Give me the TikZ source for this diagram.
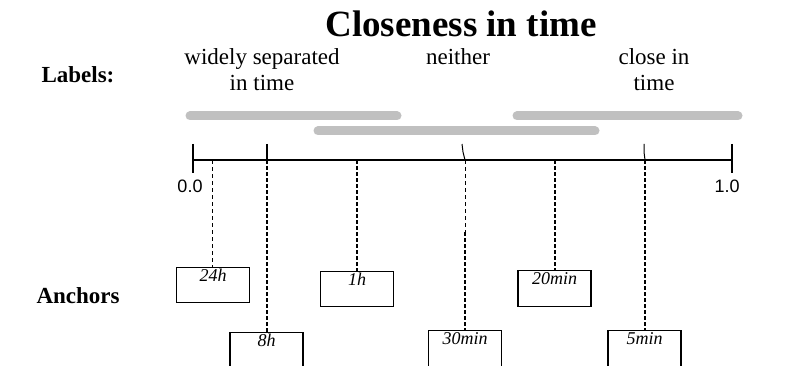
\documentclass[tikz,border=0pt]{standalone}
\usepackage{fontspec}
\setmainfont{Liberation Serif}
\setsansfont{Liberation Sans}
\usetikzlibrary{positioning}
\definecolor{lightbar}{RGB}{192,192,192}
\tikzset{
  anchor box/.style={draw,line width=1.2pt,minimum width=73pt,anchor=north,inner sep=0pt},
  box text/.style={font=\fontsize{18}{18}\selectfont\itshape,anchor=north,inner sep=2pt},
  head/.style={font=\fontsize{23}{23}\selectfont\bfseries,anchor=base west},
  category/.style={font=\fontsize{23}{26}\selectfont,align=center,anchor=base},
  number/.style={font=\sffamily\fontsize{18}{18}\selectfont,anchor=base},
  bar/.style={line width=9pt,line cap=round,draw=lightbar},
  thin dash/.style={line width=1pt,dash pattern=on 4pt off 3pt},
  thick dash/.style={line width=2.6pt,dash pattern=on 4pt off 2pt}
}
\begin{document}
\begin{tikzpicture}[x=1pt,y=-1pt]
    \useasboundingbox (0,0) rectangle (810,366);
    \clip (0,0) rectangle (810,366);

    \node[font=\fontsize{37}{40}\selectfont\bfseries,anchor=base] (title) at (461,37) {Closeness in time};

    \node[head] (labels) at (38,83) {Labels:};
    \node[head] (anchors) at (33,303) {Anchors};

    % the base of a two-line node is its last line
    \node[category] (wide) at (262,91) {widely separated\\in time};
    \node[category] (neither) at (458,65) {neither};
    \node[category] (close) at (654,91) {close in\\time};

    % grey ranges of the labels
    \draw[bar] (190,116) -- (397,116);
    \draw[bar] (318,131) -- (595,131);
    \draw[bar] (517,116) -- (738,116);

    % the 0..1 scale
    \coordinate (s0) at (193,160);
    \coordinate (s1) at (732,160);
    \draw[line width=1.4pt] (s0) -- (s1);
    \draw[line width=1.4pt] (193,144) -- (193,173);
    \draw[line width=1.4pt] (732,144) -- (732,173);
    \node[number] (n0) at (190,193) {0.0};
    \node[number] (n1) at (727,193) {1.0};

    \coordinate (p1) at (212,160);
    \coordinate (p2) at (267,160);
    \coordinate (p3) at (357,160);
    \coordinate (p4) at (465,160);
    \coordinate (p5) at (555,160);
    \coordinate (p6) at (645,160);

    \draw[line width=1.2pt] (267,144) -- (p2);
    \draw[line width=1pt] (462,144) -- (463,152) -- (p4);
    \draw[line width=1pt] (644,144) -- (644,152) -- (p6);

    % anchor boxes
    \node[anchor box,minimum height=35pt,label={[box text]north:24h}] (b1) at (213,267) {};
    \node[anchor box,minimum height=40pt,label={[box text]north:8h}] (b2) at (266.5,332) {};
    \node[anchor box,minimum height=35pt,label={[box text]north:1h}] (b3) at (357,271) {};
    \node[anchor box,minimum height=40pt,label={[box text]north:30min}] (b4) at (465,330) {};
    \node[anchor box,minimum height=36pt,label={[box text]north:20min}] (b5) at (554.5,270) {};
    \node[anchor box,minimum height=40pt,label={[box text]north:5min}] (b6) at (644.5,330) {};

    \coordinate (m4) at (465,232);

    \path[thin dash]
      (p1) edge (p1 |- b1.north)
      (p4) edge (m4);
    \path[thick dash]
      (p2) edge (p2 |- b2.north)
      (p3) edge (p3 |- b3.north)
      (m4) edge (p4 |- b4.north)
      (p5) edge (p5 |- b5.north)
      (p6) edge (p6 |- b6.north);
\end{tikzpicture}
\end{document}
